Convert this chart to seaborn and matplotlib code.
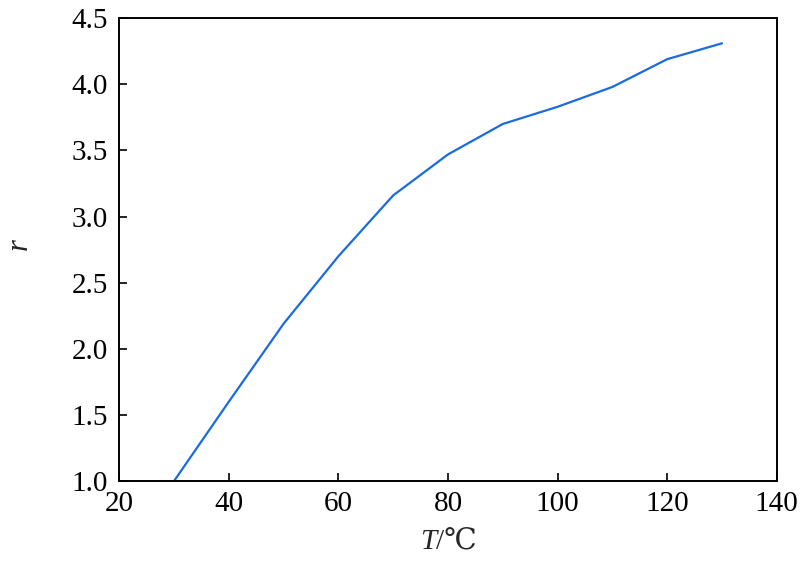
import numpy as np
import pandas as pd
import seaborn as sns
import matplotlib.pyplot as plt

# Data
temperature = [30, 40, 50, 60, 70, 80, 90, 100, 110, 120, 130]
ratio = [1.0, 1.6, 2.19, 2.70, 3.16, 3.47, 3.70, 3.83, 3.98, 4.19, 4.31]
x_ticks = [20, 40, 60, 80, 100, 120, 140]
y_ticks = [1.0, 1.5, 2.0, 2.5, 3.0, 3.5, 4.0, 4.5]

df = pd.DataFrame({"T": temperature, "r": ratio})

sns.set_style("white")
plt.rcParams['font.family'] = ['Liberation Serif', 'DejaVu Serif', 'Noto Sans CJK SC']

fig, ax = plt.subplots(figsize=(8, 5.68), dpi=100)
fig.subplots_adjust(left=0.149, right=0.971, bottom=0.153, top=0.968)

sns.lineplot(data=df, x="T", y="r", ax=ax, color="#1a6be0", linewidth=1.6)

ax.set_xlim(20, 140)
ax.set_ylim(1.0, 4.5)
ax.set_xticks(x_ticks)
ax.set_yticks(y_ticks)
ax.set_xticklabels([str(t) for t in x_ticks])
ax.set_yticklabels([f"{t:.1f}" for t in y_ticks])
ax.tick_params(direction='in', length=6, width=1.2, labelsize=21, colors='black',
               top=False, right=False, bottom=True, left=True)
ax.tick_params(axis='x', pad=7)
ax.tick_params(axis='y', pad=8)

for s in ax.spines.values():
    s.set_color('black')
    s.set_linewidth(1.4)

# x label: italic T followed by /℃
ax.set_xlabel("")
ax.set_ylabel("")
ax.text(0.482, -0.132, "T", transform=ax.transAxes, ha='right', va='center',
        fontsize=21, fontstyle='italic')
ax.text(0.482, -0.132, "/℃", transform=ax.transAxes, ha='left', va='center',
        fontsize=21)
ax.text(-0.152, 0.512, "r", transform=ax.transAxes, ha='center', va='center',
        fontsize=22, fontstyle='italic', rotation=90)

plt.savefig("out.png", dpi=100)
